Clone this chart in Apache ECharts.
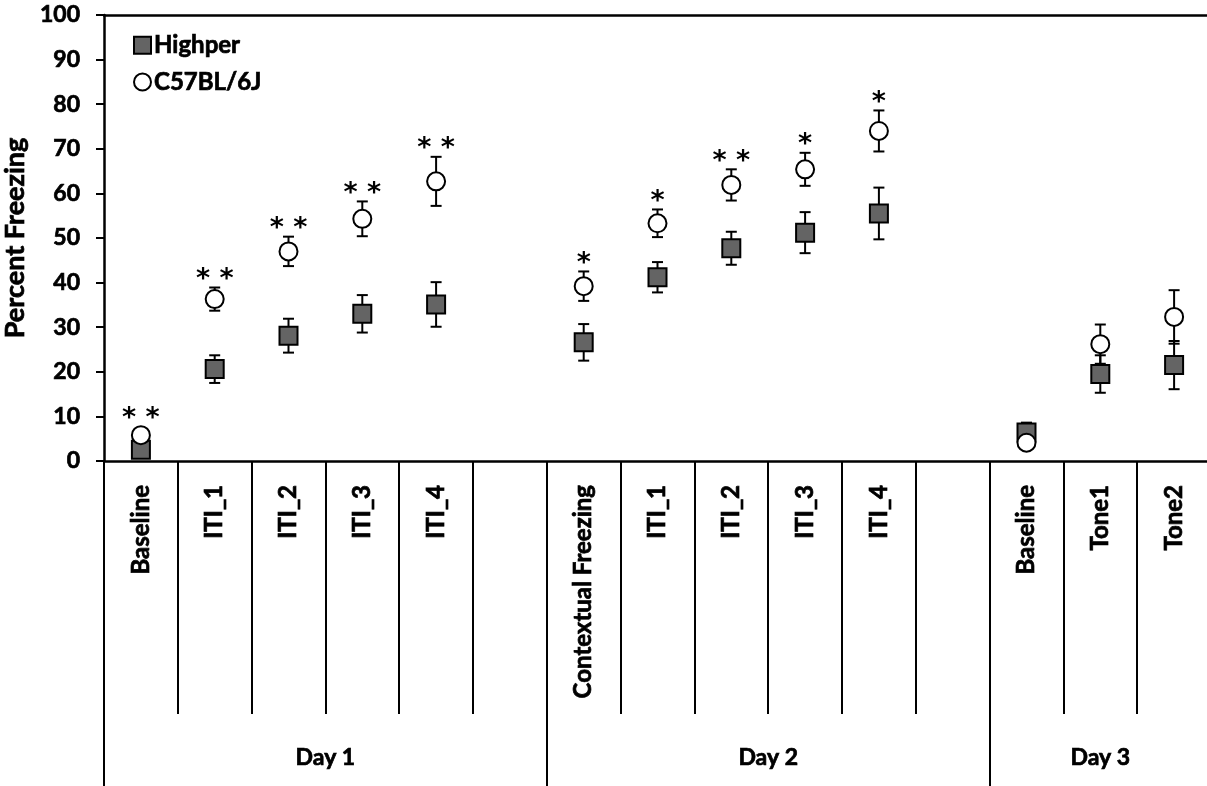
<!DOCTYPE html>
<html><head><meta charset="utf-8">
<script src="https://cdn.jsdelivr.net/npm/echarts@6/dist/echarts.min.js"></script>
<style>html,body{margin:0;padding:0;background:#fff}#c{width:1207px;height:786px}</style>
</head><body><div id="c"></div>
<script>
const categories = ['Baseline','ITI_1','ITI_2','ITI_3','ITI_4','','Contextual Freezing','ITI_1','ITI_2','ITI_3','ITI_4','','Baseline','Tone1','Tone2'];
const dayLabels = ['Day 1','Day 2','Day 3'];
const dayCenters = [3, 9, 13.5];
const dayBounds = [0, 6, 12];
const highperMean = [2.5,20.6,28.1,33.0,35.1,null,26.6,41.2,47.7,51.2,55.5,null,6.4,19.5,21.5];
const highperErr  = [1.0,3.1,3.8,4.2,5.0,null,4.1,3.4,3.7,4.6,5.8,null,2.2,4.2,5.4];
const c57Mean     = [5.8,36.3,47.0,54.3,62.7,null,39.2,53.3,61.9,65.4,74.0,null,4.1,26.2,32.3];
const c57Err      = [0.8,2.6,3.3,3.9,5.5,null,3.3,3.1,3.5,3.7,4.6,null,1.0,4.4,6.0];
const significance = ['* *','* *','* *','* *','* *','','*','*','* *','*','*','','','',''];
const yMin = 0, yMax = 100, yInterval = 10;

const FONT = 'Lato';
const TB = { textBorderColor: '#000', textBorderWidth: 0.7 };
function pts(mean, err) {
  const out = [];
  mean.forEach((m, i) => { if (m !== null) out.push([i, m, err[i]]); });
  return out;
}
function errRender(params, api) {
  const i = api.value(0), m = api.value(1), e = api.value(2);
  const hi = api.coord([i, m + e]);
  const lo = api.coord([i, m - e]);
  const x = hi[0], cap = 5.5;
  const style = { stroke: '#000', lineWidth: 2 };
  return { type: 'group', children: [
    { type: 'line', shape: { x1: x, y1: hi[1], x2: x, y2: lo[1] }, style },
    { type: 'line', shape: { x1: x - cap, y1: hi[1], x2: x + cap, y2: hi[1] }, style },
    { type: 'line', shape: { x1: x - cap, y1: lo[1], x2: x + cap, y2: lo[1] }, style }
  ]};
}
function sigRender(params, api) {
  const i = api.value(0), m = api.value(1), e = api.value(2);
  const txt = significance[i];
  if (!txt) return null;
  const top = Math.min(api.coord([i, m + e])[1], api.coord([i, m])[1] - 9);
  const x = api.coord([i, m])[0];
  return { type: 'text', x: x, y: top + 6, style: { text: txt, fontFamily: 'DejaVu Sans', fontWeight: 'bold', fontSize: 27, fill: '#000', align: 'center', verticalAlign: 'bottom' } };
}

const chart = echarts.init(document.getElementById('c'), null, { renderer: 'canvas' });
chart.setOption({
  animation: false,
  backgroundColor: '#fff',
  grid: { left: 104, right: -4, top: 15, bottom: 325, containLabel: false, outerBoundsMode: 'none' },
  legend: {
    orient: 'vertical', left: 128, top: 28, itemWidth: 17, itemHeight: 17, itemGap: 12,
    selectedMode: false,
    textStyle: Object.assign({ fontFamily: FONT, fontWeight: 'bold', fontSize: 24, color: '#000', padding: [0,0,0,-2] }, TB),
    data: [{ name: 'Highper', icon: 'rect' }, { name: 'C57BL/6J', icon: 'circle' }]
  },
  xAxis: [
    {
      type: 'category', data: categories, position: 'bottom', boundaryGap: true,
      axisLine: { show: true, lineStyle: { color: '#000', width: 2.5 } },
      axisTick: { show: true, interval: 0, length: 253, lineStyle: { color: '#000', width: 2 } },
      axisLabel: Object.assign({ interval: 0, rotate: 90, margin: 24, fontFamily: FONT, fontWeight: 'bold', fontSize: 24, color: '#000' }, TB),
      splitLine: { show: false }
    },
    {
      type: 'value', min: 0, max: 15, position: 'bottom',
      axisLine: { show: false },
      axisTick: { show: true, customValues: dayBounds, length: 325, lineStyle: { color: '#000', width: 2 } },
      axisLabel: Object.assign({ customValues: dayCenters, margin: 285, fontFamily: FONT, fontWeight: 'bold', fontSize: 23, color: '#000',
        formatter: v => dayLabels[dayCenters.indexOf(v)] || '' }, TB),
      splitLine: { show: false }
    },
    {
      type: 'category', data: categories, position: 'top',
      axisLine: { show: true, lineStyle: { color: '#000', width: 2.5 } },
      axisTick: { show: false }, axisLabel: { show: false }, splitLine: { show: false }
    }
  ],
  yAxis: {
    type: 'value', min: yMin, max: yMax, interval: yInterval,
    name: 'Percent Freezing', nameLocation: 'middle', nameGap: 70, nameRotate: 90,
    nameTextStyle: Object.assign({ fontFamily: FONT, fontWeight: 'bold', fontSize: 27, color: '#000' }, TB),
    axisLine: { show: true, lineStyle: { color: '#000', width: 2.5 } },
    axisTick: { show: true, inside: false, length: 8, lineStyle: { color: '#000', width: 2 } },
    axisLabel: Object.assign({ margin: 24, fontFamily: FONT, fontWeight: 'bold', fontSize: 23, color: '#000' }, TB),
    splitLine: { show: false }
  },
  series: [
    { type: 'custom', name: 'errH', renderItem: errRender, data: pts(highperMean, highperErr), z: 1, silent: true },
    { type: 'custom', name: 'errC', renderItem: errRender, data: pts(c57Mean, c57Err), z: 1, silent: true },
    { type: 'scatter', name: 'Highper', symbol: 'rect', symbolSize: 18, z: 2,
      itemStyle: { color: '#646464', borderColor: '#000', borderWidth: 2, opacity: 1 },
      data: pts(highperMean, highperErr).map(d => [d[0], d[1]]) },
    { type: 'scatter', name: 'C57BL/6J', symbol: 'circle', symbolSize: 18, z: 3,
      itemStyle: { color: '#fff', borderColor: '#000', borderWidth: 2, opacity: 1 },
      data: pts(c57Mean, c57Err).map(d => [d[0], d[1]]) },
    { type: 'custom', name: 'sig', renderItem: sigRender, data: pts(c57Mean, c57Err), z: 4, silent: true }
  ]
});
</script></body></html>
